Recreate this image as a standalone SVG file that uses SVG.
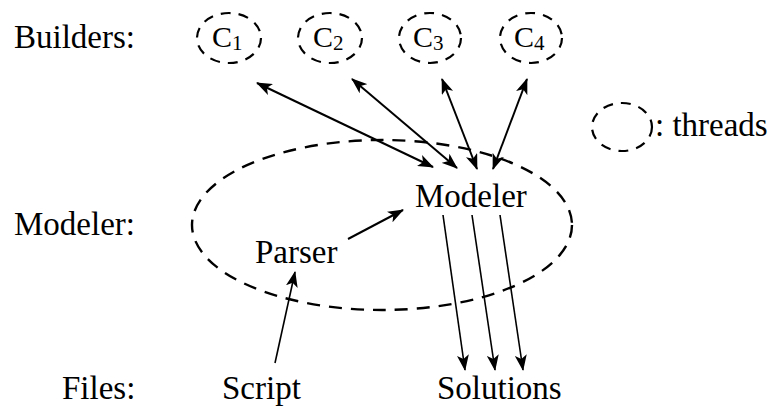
<svg xmlns="http://www.w3.org/2000/svg" width="778" height="408" viewBox="0 0 778 408">
  <style>
    text { font-family: 'Liberation Serif', 'Times New Roman', 'DejaVu Serif', serif; fill: #000; }
    .lbl { font-size: 33px; }
    .cap { font-size: 30px; }
    .sub { font-size: 21px; }
    .thread { fill: none; stroke: #000; stroke-width: 2.2; stroke-dasharray: 10 8; }
    .proc { fill: none; stroke: #000; stroke-width: 2.4; stroke-dasharray: 13 9; }
    .edge { fill: none; stroke: #000; stroke-width: 2; }
    .thin { fill: none; stroke: #000; stroke-width: 1.6; }
  </style>
  <defs>
    <marker id="head" viewBox="0 0 16 12" refX="15" refY="6" markerWidth="16" markerHeight="12" markerUnits="userSpaceOnUse" orient="auto-start-reverse">
      <path d="M0,0 L16,6 L0,12 L4,6 z" fill="#000"/>
    </marker>
  </defs>

  <rect width="778" height="408" fill="#fff"/>

  <!-- row labels -->
  <text class="lbl" x="14" y="48" font-family="Liberation Serif, serif">Builders:</text>
  <text class="lbl" x="14" y="235" font-family="Liberation Serif, serif">Modeler:</text>
  <text class="lbl" x="62" y="399" font-family="Liberation Serif, serif">Files:</text>

  <!-- builder threads -->
  <g id="c1">
    <ellipse class="thread" cx="229" cy="38" rx="32" ry="25"/>
    <text class="cap" x="212" y="47" font-family="Liberation Serif, serif">C<tspan class="sub" dy="3">1</tspan></text>
  </g>
  <g id="c2">
    <ellipse class="thread" cx="330" cy="38" rx="32" ry="25"/>
    <text class="cap" x="313" y="47" font-family="Liberation Serif, serif">C<tspan class="sub" dy="3">2</tspan></text>
  </g>
  <g id="c3">
    <ellipse class="thread" cx="430" cy="38" rx="31" ry="25"/>
    <text class="cap" x="413" y="47" font-family="Liberation Serif, serif">C<tspan class="sub" dy="3">3</tspan></text>
  </g>
  <g id="c4">
    <ellipse class="thread" cx="531" cy="38" rx="31" ry="25"/>
    <text class="cap" x="514" y="47" font-family="Liberation Serif, serif">C<tspan class="sub" dy="3">4</tspan></text>
  </g>

  <!-- legend -->
  <g id="legend">
    <ellipse class="thread" cx="622" cy="127" rx="30" ry="24"/>
    <text class="lbl" x="655" y="136" font-family="Liberation Serif, serif">: threads</text>
  </g>

  <!-- modeler process -->
  <g id="modeler-process">
    <ellipse class="proc" cx="382" cy="225" rx="190" ry="85"/>
  </g>
  <g id="modeler">
    <text class="lbl" x="415" y="207" font-family="Liberation Serif, serif">Modeler</text>
  </g>
  <g id="parser">
    <text class="lbl" x="255" y="263" font-family="Liberation Serif, serif">Parser</text>
  </g>

  <!-- files -->
  <g id="script">
    <text class="lbl" x="222" y="399" font-family="Liberation Serif, serif">Script</text>
  </g>
  <g id="solutions">
    <text class="lbl" x="437" y="399" font-family="Liberation Serif, serif">Solutions</text>
  </g>

  <!-- connectors -->
  <g id="connectors">
    <line class="edge" x1="257" y1="83" x2="433" y2="167" marker-start="url(#head)" marker-end="url(#head)"/>
    <line class="edge" x1="352" y1="79" x2="457" y2="168" marker-start="url(#head)" marker-end="url(#head)"/>
    <line class="edge" x1="442" y1="79" x2="477" y2="169" marker-start="url(#head)" marker-end="url(#head)"/>
    <line class="edge" x1="527" y1="79" x2="493" y2="169" marker-start="url(#head)" marker-end="url(#head)"/>
    <line class="edge" x1="348" y1="239" x2="403" y2="210" marker-end="url(#head)"/>
    <line class="thin" x1="275" y1="363" x2="295" y2="272" marker-end="url(#head)"/>
    <line class="thin" x1="443" y1="215" x2="465" y2="370" marker-end="url(#head)"/>
    <line class="thin" x1="472" y1="215" x2="495" y2="370" marker-end="url(#head)"/>
    <line class="thin" x1="500" y1="215" x2="523" y2="370" marker-end="url(#head)"/>
  </g>
</svg>
